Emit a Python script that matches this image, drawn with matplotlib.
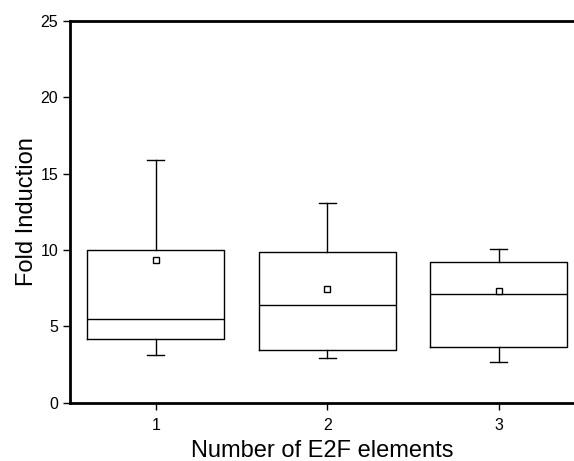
import matplotlib
matplotlib.use("Agg")
import matplotlib.pyplot as plt

plt.rcParams["font.family"] = ["Liberation Sans", "DejaVu Sans"]

groups = ["1", "2", "3"]
q1 = [4.18, 3.48, 3.68]
medians = [5.5, 6.4, 7.1]
q3 = [10.0, 9.88, 9.25]
whislo = [3.11, 2.92, 2.7]
whishi = [15.86, 13.07, 10.1]
means = [9.38, 7.42, 7.33]

stats = []
for i in range(len(groups)):
    stats.append({"label": groups[i], "q1": q1[i], "med": medians[i], "q3": q3[i],
                  "whislo": whislo[i], "whishi": whishi[i], "mean": means[i], "fliers": []})

fig = plt.figure(figsize=(5.74, 4.61), dpi=100)
ax = fig.add_axes([0.122, 0.126, 0.878, 0.829])

line = dict(color="black", linewidth=1.0)
ax.bxp(stats, positions=[1, 2, 3], widths=0.8, showmeans=True, capwidths=0.1,
       boxprops=line, whiskerprops=line, capprops=line, medianprops=line,
       meanprops=dict(marker="s", markerfacecolor="white", markeredgecolor="black",
                      markersize=4, markeredgewidth=1.0))

ax.set_xlim(0.5, 3.44)
ax.set_ylim(0, 25)
ax.set_yticks([0, 5, 10, 15, 20, 25])
ax.set_xticks([1, 2, 3])
ax.set_xticklabels(groups)

ax.spines["right"].set_visible(False)
for s in ["left", "bottom", "top"]:
    ax.spines[s].set_linewidth(2)
ax.tick_params(axis="both", labelsize=11.5, length=5, width=1, direction="out")
ax.tick_params(axis="x", pad=6)

ax.set_ylabel("Fold Induction", fontsize=17, labelpad=2)
ax.set_xlabel("Number of E2F elements", fontsize=17, labelpad=5)

plt.savefig("out.png", dpi=100)
